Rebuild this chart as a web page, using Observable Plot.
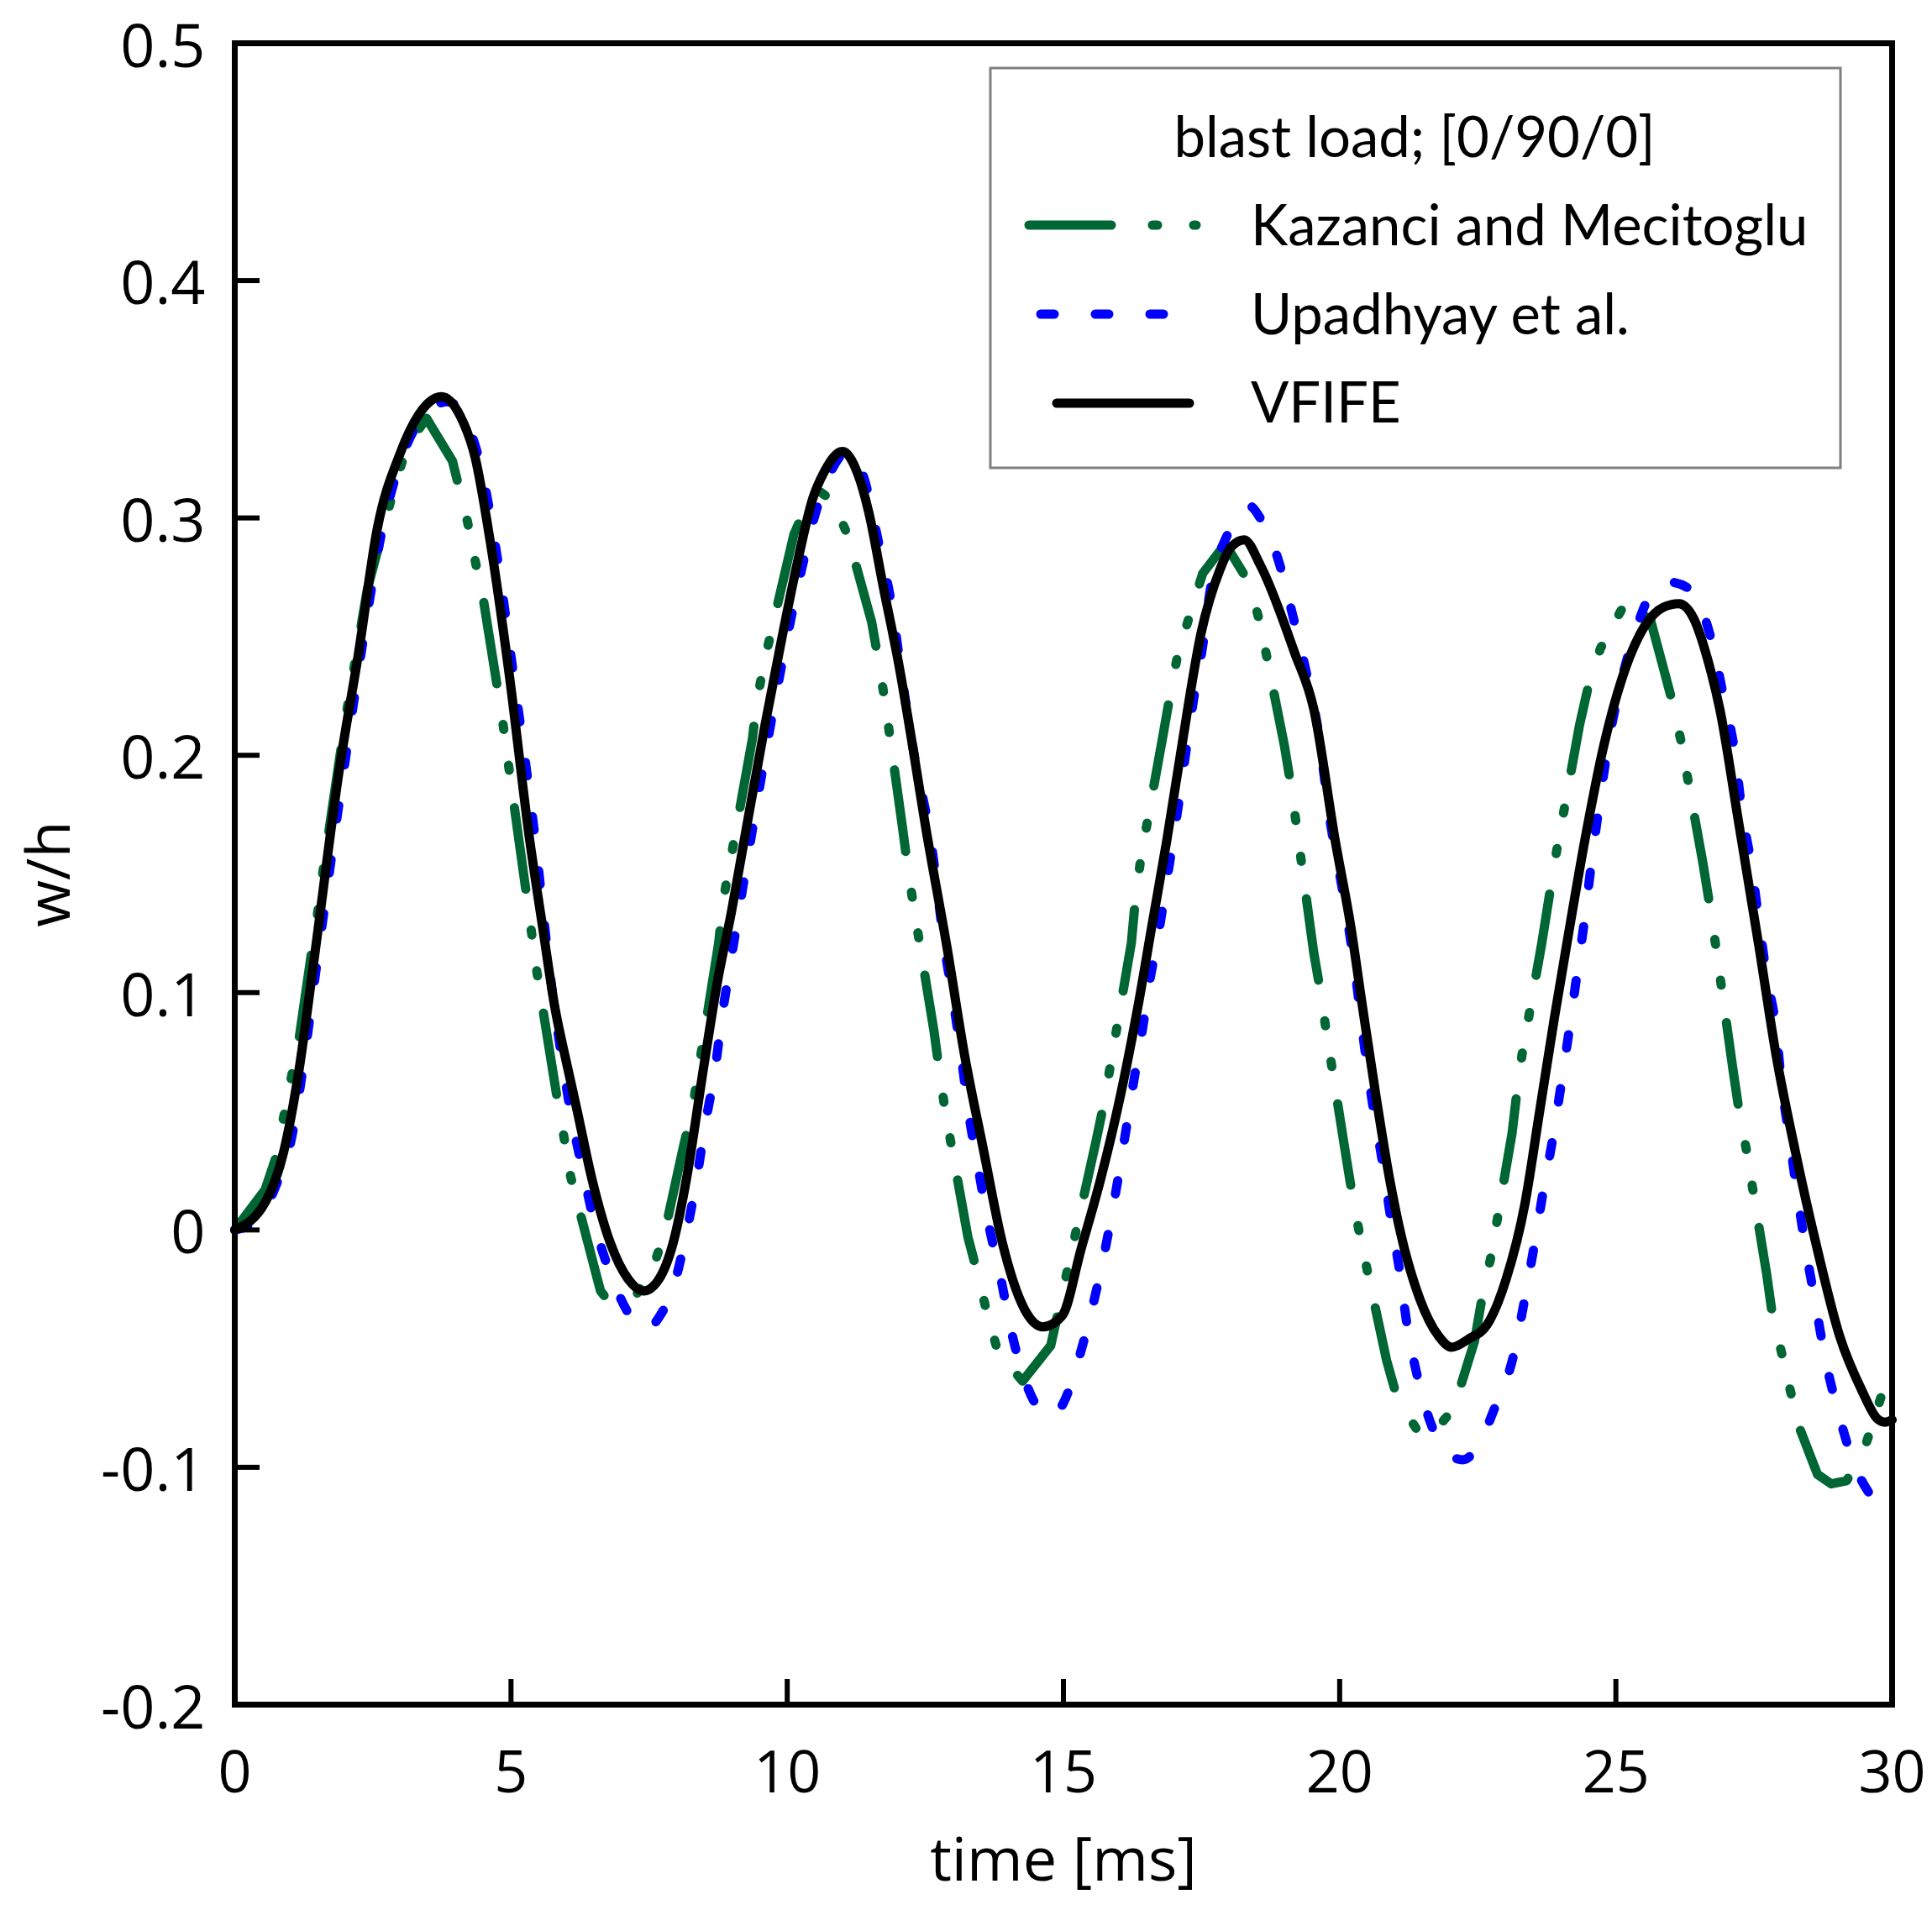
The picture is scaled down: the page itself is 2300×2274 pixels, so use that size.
<!DOCTYPE html>
<html><head><meta charset="utf-8">
<script src="https://cdn.jsdelivr.net/npm/d3@7"></script>
<script src="https://cdn.jsdelivr.net/npm/@observablehq/plot@0.6"></script>
<style>body{margin:0;background:#fff}</style>
</head><body><div id="chart"></div>
<script>
const seriesNames = ["Kazanci and Mecitoglu", "Upadhyay et al.", "VFIFE"];
const legendTitle = "blast load; [0/90/0]";
const xLabel = "time [ms]";
const yLabel = "w/h";
const xTicks = [0, 5, 10, 15, 20, 25, 30];
const yTicks = [-0.2, -0.1, 0, 0.1, 0.2, 0.3, 0.4, 0.5];

// Kazanci and Mecitoglu (green, dash-dot-dot, piecewise linear)
const kazT = [0, 0.55, 0.75, 0.886, 1.03, 1.16, 1.39, 1.5, 1.6, 1.7, 2.0, 2.4, 2.82, 3.02, 3.2, 3.47, 3.94, 4.04, 4.21, 4.36, 4.5, 4.76, 4.86, 4.96, 5.28, 5.37, 5.47, 5.84, 5.96, 6.08, 6.62, 6.73, 7.17, 7.57, 7.78, 8.12, 8.29, 8.39, 8.76, 8.83, 8.96, 9.37, 9.45, 9.59, 10.12, 10.38, 10.6, 10.83, 11.1, 11.53, 11.65, 11.77, 12.09, 12.18, 12.29, 12.66, 12.75, 12.86, 13.27, 13.44, 13.62, 13.82, 14.26, 14.77, 15.59, 15.73, 15.86, 16.23, 16.3, 16.4, 16.81, 16.93, 17.07, 17.52, 17.93, 18.36, 18.56, 19.0, 19.12, 19.22, 19.53, 19.65, 19.76, 20.12, 20.23, 20.37, 20.85, 21.04, 21.42, 21.7, 21.89, 22.06, 22.44, 22.57, 22.73, 23.12, 23.2, 23.3, 23.66, 23.81, 23.93, 24.34, 24.5, 24.72, 25.2, 25.63, 25.83, 26.0, 26.17, 26.58, 26.69, 26.8, 27.12, 27.22, 27.36, 27.73, 27.83, 28.0, 28.3, 28.65, 28.9, 29.18, 29.53, 30];
const kazV = [0, 0.017, 0.031, 0.0477, 0.065, 0.080, 0.117, 0.1336, 0.1517, 0.1675, 0.215, 0.27, 0.307, 0.323, 0.333, 0.342, 0.324, 0.3146, 0.2987, 0.281, 0.2656, 0.2276, 0.2125, 0.195, 0.1414, 0.1256, 0.1085, 0.0548, 0.039, 0.0224, -0.0257, -0.029, -0.031, -0.016, -0.0013, 0.035, 0.0517, 0.067, 0.121, 0.1375, 0.154, 0.207, 0.2227, 0.240, 0.293, 0.307, 0.311, 0.307, 0.2924, 0.256, 0.240, 0.2227, 0.169, 0.153, 0.136, 0.0833, 0.0675, 0.050, -0.0029, -0.018, -0.0353, -0.0518, -0.0637, -0.0487, 0.0374, 0.053, 0.0706, 0.121, 0.139, 0.1565, 0.2094, 0.2253, 0.2426, 0.2766, 0.289, 0.2727, 0.2557, 0.204, 0.187, 0.170, 0.117, 0.1007, 0.0833, 0.0303, 0.0146, -0.0029, -0.055, -0.0708, -0.085, -0.086, -0.080, -0.0755, -0.047, -0.0296, -0.0122, 0.0406, 0.0564, 0.0737, 0.121, 0.143, 0.160, 0.2125, 0.229, 0.245, 0.2655, 0.2567, 0.2394, 0.2245, 0.207, 0.154, 0.138, 0.121, 0.0675, 0.0517, 0.034, -0.0187, -0.0353, -0.0518, -0.082, -0.103, -0.107, -0.1056, -0.090, -0.0558];

// Upadhyay et al. (blue, dashed)
const upaT = [0, 0.4, 0.75, 1.03, 1.22, 1.49, 1.95, 2.3, 2.65, 3.05, 3.5, 3.85, 4.2, 4.45, 4.72, 5.05, 5.4, 5.75, 5.95, 6.1, 6.3, 6.52, 6.86, 7.15, 7.45, 7.7, 7.94, 8.15, 8.35, 8.52, 8.69, 8.82, 8.97, 9.3, 9.6, 9.9, 10.2, 10.55, 10.8, 11.1, 11.4, 11.65, 11.92, 12.06, 12.3, 12.6, 12.86, 13.02, 13.16, 13.29, 13.46, 13.64, 13.86, 14.06, 14.33, 14.77, 15.01, 15.28, 15.53, 15.74, 15.93, 16.1, 16.25, 16.42, 16.57, 16.7, 16.88, 17.05, 17.22, 17.35, 17.52, 17.66, 17.96, 18.37, 18.57, 18.88, 19.15, 19.39, 19.59, 19.83, 20.07, 20.25, 20.47, 20.61, 20.78, 20.92, 21.08, 21.22, 21.42, 21.69, 22.0, 22.23, 22.45, 22.81, 23.15, 23.35, 23.52, 23.69, 23.86, 24.02, 24.16, 24.3, 24.44, 24.57, 24.71, 24.85, 25.05, 25.32, 25.66, 25.95, 26.34, 26.75, 26.95, 27.15, 27.28, 27.46, 27.59, 27.73, 27.9, 28.0, 28.14, 28.28, 28.44, 28.61, 28.78, 29.02, 29.32, 29.65, 29.9, 30];
const upaV = [0, 0.004, 0.019, 0.039, 0.066, 0.113, 0.19, 0.245, 0.293, 0.327, 0.345, 0.349, 0.34, 0.322, 0.288, 0.233, 0.172, 0.1, 0.068, 0.047, 0.025, 0.002, -0.022, -0.036, -0.042, -0.036, -0.024, -0.004, 0.02, 0.045, 0.067, 0.09, 0.112, 0.159, 0.2, 0.238, 0.272, 0.305, 0.32, 0.328, 0.316, 0.29, 0.259, 0.2355, 0.2, 0.164, 0.1173, 0.0943, 0.0714, 0.0485, 0.0256, 0.003, -0.0197, -0.043, -0.065, -0.0787, -0.0724, -0.054, -0.032, -0.0099, 0.0137, 0.0374, 0.0595, 0.083, 0.106, 0.122, 0.1485, 0.174, 0.202, 0.2227, 0.246, 0.270, 0.2925, 0.305, 0.2996, 0.283, 0.259, 0.2355, 0.2134, 0.172, 0.1407, 0.114, 0.0737, 0.051, 0.0278, 0.0057, -0.0165, -0.040, -0.063, -0.084, -0.095, -0.0968, -0.093, -0.0748, -0.0526, -0.029, -0.0068, 0.017, 0.039, 0.063, 0.085, 0.1085, 0.132, 0.157, 0.1807, 0.203, 0.2264, 0.2497, 0.2689, 0.273, 0.270, 0.2466, 0.2246, 0.2015, 0.1768, 0.1527, 0.13, 0.107, 0.0847, 0.0614, 0.039, 0.0157, -0.0085, -0.0306, -0.053, -0.0764, -0.099, -0.113, -0.119, -0.121];

// VFIFE (black, solid)
const vfT = [0, 0.56, 0.886, 1.16, 1.43, 1.905, 2.24, 2.58, 2.99, 3.47, 3.74, 4.08, 4.35, 4.62, 4.96, 5.34, 5.57, 5.8, 6.0, 6.2, 6.46, 6.79, 7.13, 7.40, 7.67, 7.94, 8.18, 8.49, 8.74, 8.99, 9.22, 9.6, 9.9, 10.21, 10.46, 10.66, 11.0, 11.27, 11.48, 11.73, 12.03, 12.29, 12.49, 12.9, 13.21, 13.55, 13.89, 14.30, 14.63, 14.98, 15.32, 15.68, 16.04, 16.34, 16.6, 16.87, 17.15, 17.49, 17.83, 18.03, 18.27, 18.57, 19.18, 19.53, 19.92, 20.2, 20.42, 20.65, 20.9, 21.11, 21.45, 21.79, 22.03, 22.33, 22.67, 23.01, 23.35, 23.62, 23.89, 24.13, 24.44, 24.78, 25.11, 25.52, 25.86, 26.14, 26.41, 26.68, 26.88, 27.22, 27.6, 27.9, 28.24, 28.65, 29.05, 29.46, 29.73, 29.87, 30];
const vfV = [0, 0.012, 0.033, 0.067, 0.113, 0.196, 0.243, 0.2955, 0.327, 0.3477, 0.3511, 0.343, 0.3256, 0.2907, 0.2355, 0.164, 0.128, 0.093, 0.071, 0.05, 0.022, -0.005, -0.021, -0.0257, -0.021, -0.005, 0.022, 0.069, 0.105, 0.134, 0.164, 0.213, 0.249, 0.284, 0.308, 0.319, 0.328, 0.319, 0.302, 0.272, 0.237, 0.201, 0.172, 0.118, 0.0737, 0.034, -0.005, -0.0336, -0.0408, -0.036, -0.008, 0.022, 0.0575, 0.093, 0.128, 0.164, 0.205, 0.2513, 0.278, 0.2876, 0.2908, 0.2798, 0.2435, 0.2196, 0.164, 0.128, 0.093, 0.0575, 0.022, -0.002, -0.029, -0.0447, -0.0494, -0.046, -0.0399, -0.021, 0.0106, 0.050, 0.0898, 0.123, 0.1644, 0.204, 0.2323, 0.2544, 0.2624, 0.2639, 0.2576, 0.2388, 0.2196, 0.172, 0.118, 0.0737, 0.034, -0.0085, -0.0447, -0.068, -0.0795, -0.081, -0.08];

const toRows = (T, V) => T.map((t, i) => ({t, v: V[i]}));
const kaz = toRows(kazT, kazV), upa = toRows(upaT, upaV), vf = toRows(vfT, vfV);

const W = 2300, H = 2274, mL = 279, mR = 48, mT = 51, mB = 245;
const plotW = W - mL - mR, plotH = H - mT - mB;
const GREEN = "#006633", BLUE = "#0000ff", BLACK = "#000000";
const LW = 11;
const KAZ_DASH = "98,49,6,43,6,45", UPA_DASH = "16,49";
const fmtY = d => d === 0 ? "0" : d.toFixed(1);

const plot = Plot.plot({
  width: W, height: H,
  marginLeft: mL, marginRight: mR, marginTop: mT, marginBottom: mB,
  style: {fontFamily: "'Open Sans', sans-serif", fontSize: "70px", color: "#000", background: "#fff"},
  x: {domain: [0, 30], label: null},
  y: {domain: [-0.2, 0.5], label: null},
  marks: [
    Plot.line(kaz, {x: "t", y: "v", stroke: GREEN, strokeWidth: LW, strokeDasharray: KAZ_DASH, strokeLinecap: "round", strokeLinejoin: "round"}),
    Plot.line(upa, {x: "t", y: "v", stroke: BLUE, strokeWidth: LW, strokeDasharray: UPA_DASH, strokeLinecap: "round", curve: "monotone-x"}),
    Plot.line(vf, {x: "t", y: "v", stroke: BLACK, strokeWidth: LW, curve: "monotone-x"}),
    Plot.tickY(yTicks, {y: d => d, insetRight: plotW - 30, stroke: BLACK, strokeWidth: 6}),
    Plot.tickX(xTicks, {x: d => d, insetTop: plotH - 30, stroke: BLACK, strokeWidth: 6}),
    Plot.frame({stroke: BLACK, strokeWidth: 7}),
    Plot.axisY(yTicks, {tickSize: 0, tickPadding: 35, tickFormat: fmtY, fontSize: 72, dy: 5, label: null}),
    Plot.axisX(xTicks, {tickSize: 0, tickPadding: 55, tickFormat: d => String(d), fontSize: 70, label: null}),
    Plot.text([xLabel], {text: d => d, frameAnchor: "bottom", lineAnchor: "middle", textAnchor: "middle", dy: 186, fontSize: 72}),
    Plot.text([yLabel], {text: d => d, frameAnchor: "left", lineAnchor: "middle", textAnchor: "middle", dx: -220, rotate: -90, fontSize: 72})
  ]
});
document.getElementById("chart").appendChild(plot);

// Legend (inside plot, top right)
const svg = d3.select(plot);
const lg = svg.append("g").attr("font-family", "Lato, sans-serif").attr("font-size", 67).attr("fill", "#000");
lg.append("rect").attr("x", 1179).attr("y", 81).attr("width", 1012).attr("height", 476)
  .attr("fill", "#fff").attr("stroke", "#808080").attr("stroke-width", 3);
lg.append("text").attr("x", 1684).attr("y", 187).attr("text-anchor", "middle").text(legendTitle);
const items = [
  {name: seriesNames[0], color: GREEN, dash: KAZ_DASH, x1: 1225, x2: 1424, y: 268, ty: 292},
  {name: seriesNames[1], color: BLUE, dash: UPA_DASH, x1: 1239, x2: 1385, y: 374, ty: 398},
  {name: seriesNames[2], color: BLACK, dash: null, x1: 1258, x2: 1416, y: 480, ty: 503}
];
items.forEach(it => {
  lg.append("line").attr("x1", it.x1).attr("x2", it.x2).attr("y1", it.y).attr("y2", it.y)
    .attr("stroke", it.color).attr("stroke-width", LW).attr("stroke-linecap", "round")
    .attr("stroke-dasharray", it.dash);
  lg.append("text").attr("x", 1489).attr("y", it.ty).attr("text-anchor", "start").text(it.name);
});
</script>
</body></html>
